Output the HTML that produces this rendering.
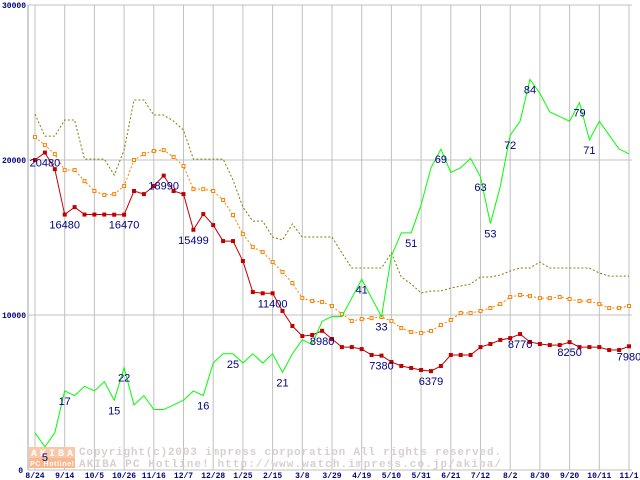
<!DOCTYPE html>
<html><head><meta charset="utf-8"><style>
html,body{margin:0;padding:0;background:#fff;width:640px;height:480px;overflow:hidden}
svg{display:block}
</style></head><body>
<svg id="chart" width="640" height="480" xmlns="http://www.w3.org/2000/svg"></svg>
<script>
const xLabels=["8/24","9/14","10/5","10/26","11/16","12/7","12/28","1/25","2/15","3/8","3/29","4/19","5/10","5/31","6/21","7/12","8/2","8/30","9/20","10/11","11/1"];
const yTicks=[0,10000,20000,30000];
const minPrice=[20000,20480,19410,16480,16960,16480,16480,16480,16470,16470,18000,17800,18320,18990,18000,17800,15499,16510,15800,14770,14770,13480,11480,11400,11400,10260,9290,8640,8710,8980,8450,7930,7930,7800,7420,7380,6970,6710,6580,6450,6379,6710,7420,7420,7420,7930,8130,8390,8510,8770,8260,8130,8060,8060,8250,7930,7930,7930,7740,7740,7980];
const avgPrice=[21480,20960,20380,19350,19350,18640,18000,17740,17800,18320,20000,20380,20580,20640,20190,19610,18120,18120,18000,17420,16450,15220,14380,14060,13420,12770,12060,11090,10900,10840,10580,10060,9610,9740,9800,9870,9610,9160,8900,8840,8970,9350,9680,10130,10130,10260,10450,10710,11160,11290,11220,11090,11090,11160,11030,10900,10900,10710,10450,10450,10580];
const maxPrice=[22960,21540,21540,22580,22580,20060,20060,20060,19030,20640,23870,23870,22900,22900,22510,21930,20060,20060,20060,20060,18710,16960,16060,16060,15030,14840,15870,15030,15030,15030,15030,14000,13030,13030,13030,13030,14000,12450,12000,11420,11550,11550,11740,11870,12000,12450,12450,12580,12840,13030,13030,13420,13030,13030,13030,13030,13030,12710,12510,12510,12510];
const rankValues=[8,5,8,17,16,18,17,19,15,22,14,16,13,13,14,15,17,16,23,25,25,23,25,23,25,21,25,28,27,32,33,33,37,41,37,33,46,51,51,57,65,69,64,65,67,63,53,61,72,75,84,81,77,76,75,79,71,75,72,69,68];
const minLabelIdx=[1,3,9,13,16,24,29,35,40,49,54,60];
const rankLabelIdx=[1,3,8,9,17,20,25,33,35,38,41,45,46,48,50,55,56];

const NS="http://www.w3.org/2000/svg";
const svg=document.getElementById('chart');
const X0=35,X1=629,Y0=470,YTOP=5,N=minPrice.length;
const xAt=i=>X0+(X1-X0)*i/(N-1);
const yPrice=v=>Y0-(Y0-YTOP)*v/30000;
const yRank=r=>Y0-(Y0-YTOP)*r/100;
function el(t,a,p){const e=document.createElementNS(NS,t);for(const k in a)e.setAttribute(k,a[k]);(p||svg).appendChild(e);return e;}

yTicks.forEach(v=>{
  const l=el('line',{x1:28,x2:632,y1:yPrice(v),y2:yPrice(v),stroke:'#c0c0c0','stroke-width':1});
  
  
  const t=el('text',{x:v===0?23:26,y:yPrice(v)+3,'text-anchor':'end','font-family':'Liberation Mono, monospace','font-size':8,'font-weight':'bold',fill:'#000080'});
  t.textContent=String(v);
  
  
});
xLabels.forEach((s,k)=>{
  const x=X0+(X1-X0)*k/(xLabels.length-1);
  const l=el('line',{x1:x,x2:x,y1:YTOP,y2:Y0,stroke:'#c0c0c0','stroke-width':1});
  
  
  const t=el('text',{x:x,y:478,'text-anchor':'middle','font-family':'Liberation Mono, monospace','font-size':8,'font-weight':'bold',fill:'#000080'});
  t.textContent=s;
  
  
});
const ax=el('line',{x1:28,x2:28,y1:YTOP,y2:Y0,stroke:'#a0a0a0'});



const wm=el('g',{});


el('rect',{x:29,y:447,width:46,height:11,fill:'#f8c8a8'},wm);
el('rect',{x:29,y:458,width:46,height:10,fill:'#f8b890'},wm);
const w1=el('text',{x:31,y:456,'font-family':'Liberation Mono, monospace','font-size':10,'font-weight':'bold',fill:'#fff',textLength:42},wm);w1.textContent='AKIBA';
const w2=el('text',{x:30,y:466,'font-family':'Liberation Sans, sans-serif','font-size':7,'font-weight':'bold',fill:'#fff',textLength:44},wm);w2.textContent='PC Hotline!';
const w3=el('text',{x:79,y:455,'font-family':'Liberation Mono, monospace','font-size':11,'font-weight':'bold',fill:'#d8d0d0',textLength:422},wm);w3.textContent='Copyright(c)2003 impress corporation All rights reserved.';
const w4=el('text',{x:79,y:467,'font-family':'Liberation Mono, monospace','font-size':11,'font-weight':'bold',fill:'#d8d0d0',textLength:422},wm);w4.textContent='AKIBA PC Hotline!  http://www.watch.impress.co.jp/akiba/';

function series(vals,yf,attrs,name){
  const p=el('polyline',Object.assign({fill:'none',points:vals.map((v,i)=>xAt(i)+','+yf(v)).join(' ')},attrs));
  
  
}
series(maxPrice,yPrice,{stroke:'#808000','stroke-width':1,'stroke-dasharray':'2,2'},'max-price-line');
series(avgPrice,yPrice,{stroke:'#ff8000','stroke-width':1,'stroke-dasharray':'2,2'},'avg-price-line');
avgPrice.forEach((v,i)=>{
  const m=el('rect',{x:xAt(i)-1.5,y:yPrice(v)-1.5,width:3,height:3,fill:'#fff',stroke:'#ff8000','stroke-width':1});
  
  
});
series(minPrice,yPrice,{stroke:'#c00000','stroke-width':1},'min-price-line');
minPrice.forEach((v,i)=>{
  const m=el('rect',{x:xAt(i)-2,y:yPrice(v)-2,width:4,height:4,fill:'#c00000'});
  
  
});
series(rankValues,yRank,{stroke:'#00ff00','stroke-width':1},'rank-line');

function labels(idx,vals,yf,name){
  idx.forEach(i=>{
    const t=el('text',{x:xAt(i),y:yf(vals[i])+14,'text-anchor':'middle','font-family':'Liberation Sans, sans-serif','font-size':11,fill:'#000080'});
    t.textContent=String(vals[i]);
    
    
  });
}
labels(minLabelIdx,minPrice,yPrice,'min-price-label');
labels(rankLabelIdx,rankValues,yRank,'rank-label');
</script>
</body></html>
